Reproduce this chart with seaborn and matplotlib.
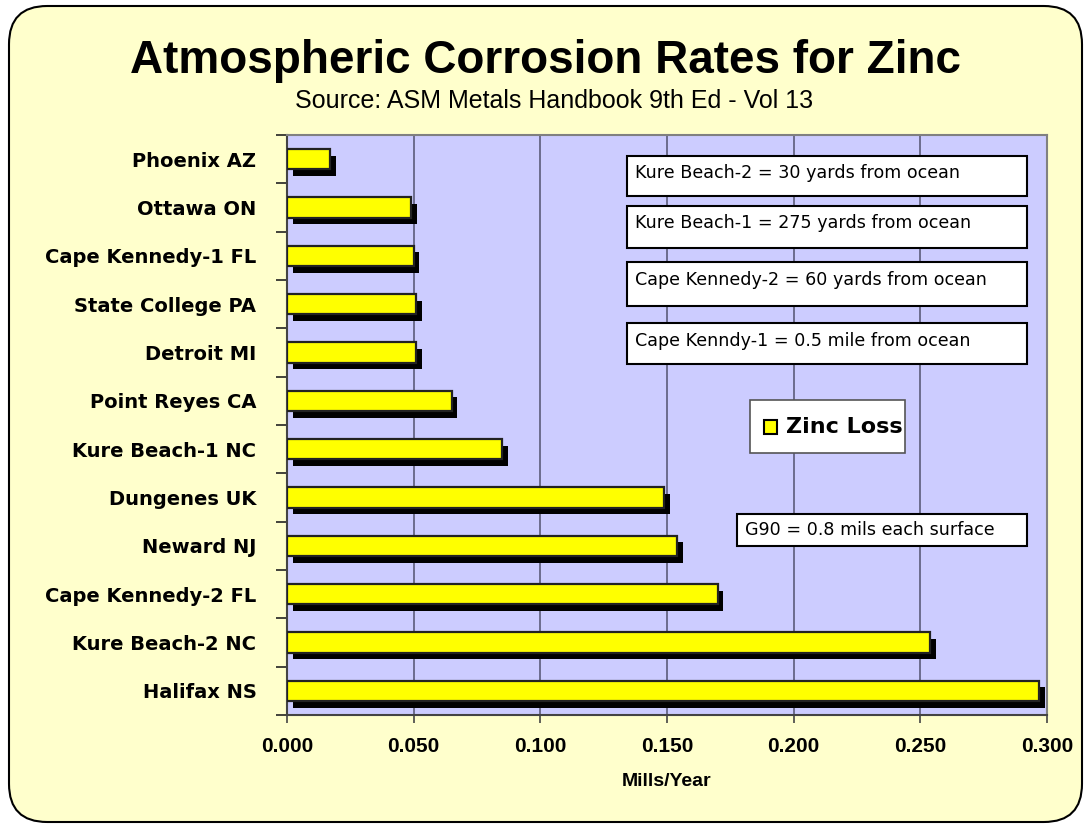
import matplotlib
matplotlib.use("Agg")
import matplotlib.pyplot as plt
import seaborn as sns
import pandas as pd
import numpy as np
from matplotlib import font_manager
from matplotlib.patches import Rectangle, FancyBboxPatch
import matplotlib.patheffects as pe
from matplotlib.ticker import FixedLocator, FormatStrFormatter

# ---------------- data ----------------
locations = ["Phoenix AZ", "Ottawa ON", "Cape Kennedy-1 FL", "State College PA",
             "Detroit MI", "Point Reyes CA", "Kure Beach-1 NC", "Dungenes UK",
             "Neward NJ", "Cape Kennedy-2 FL", "Kure Beach-2 NC", "Halifax NS"]
zinc_loss = [0.017, 0.049, 0.050, 0.051, 0.051, 0.065, 0.085, 0.149,
             0.154, 0.170, 0.254, 0.297]
x_ticks = [0.000, 0.050, 0.100, 0.150, 0.200, 0.250, 0.300]
notes = ["Kure Beach-2 = 30 yards from ocean",
         "Kure Beach-1 = 275 yards from ocean",
         "Cape Kennedy-2 = 60 yards from ocean",
         "Cape Kenndy-1 = 0.5 mile from ocean"]
g90_note = "G90 = 0.8 mils each surface"
series_name = "Zinc Loss"
title = "Atmospheric Corrosion Rates for Zinc"
subtitle = "Source: ASM Metals Handbook 9th Ed - Vol 13"
x_label = "Mills/Year"

df = pd.DataFrame({"Location": locations, "Loss": zinc_loss})

# ---------------- style ----------------
sns.set_theme(style="white")
avail = {f.name for f in font_manager.fontManager.ttflist}
narrow = "Liberation Sans Narrow" if "Liberation Sans Narrow" in avail else "Liberation Sans"
plt.rcParams["font.family"] = ["DejaVu Sans"]

W, H = 1091, 831
fig = plt.figure(figsize=(W / 100, H / 100), dpi=100)
fig.patch.set_facecolor("white")

def fx(x):
    return x / W

def fy(y):
    return 1 - y / H

# rounded background panel
panel = FancyBboxPatch((fx(9), fy(822)), fx(1082) - fx(9), fy(6) - fy(822),
                       boxstyle="round,pad=0,rounding_size=0.035",
                       transform=fig.transFigure, facecolor="#FFFFCC",
                       edgecolor="black", linewidth=1.5, zorder=0,
                       mutation_aspect=W / H)
fig.add_artist(panel)

ax = fig.add_axes([fx(287), fy(715), fx(1047) - fx(287), fy(135) - fy(715)])
ax.set_facecolor("#CCCCFF")

sns.barplot(data=df, x="Loss", y="Location", orient="h", color="#FFFF00",
            width=0.42, edgecolor="#222222", linewidth=1.6, saturation=1,
            ax=ax, zorder=3)
for p in ax.patches:
    p.set_path_effects([pe.SimplePatchShadow(offset=(4.0, -4.8),
                                             shadow_rgbFace="black", alpha=1.0),
                        pe.Normal()])

ax.set_xlim(0, 0.3)
ax.set_ylim(len(locations) - 0.5, -0.5)
ax.xaxis.set_major_locator(FixedLocator(x_ticks))
ax.xaxis.set_major_formatter(FormatStrFormatter("%.3f"))
ax.grid(axis="x", color="#5C5C7A", linewidth=1.2, zorder=1)
ax.set_axisbelow(True)

ax.yaxis.set_minor_locator(FixedLocator(np.arange(-0.5, len(locations), 1.0)))
ax.tick_params(axis="y", which="major", length=0, pad=22)
ax.tick_params(axis="y", which="minor", length=8, width=1.2, color="#222222",
               left=True, direction="out")
ax.tick_params(axis="x", which="major", length=6, width=1.2, color="#444444",
               bottom=True, direction="out", pad=10)
for lab in ax.get_yticklabels():
    lab.set_fontsize(14)
    lab.set_fontweight("bold")
    lab.set_color("black")
for lab in ax.get_xticklabels():
    lab.set_fontfamily(narrow)
    lab.set_fontsize(15)
    lab.set_fontweight("bold")
    lab.set_color("black")
ax.set_ylabel("")
ax.set_xlabel(x_label, fontfamily=narrow, fontsize=14, fontweight="bold",
              color="black", labelpad=12)

for side in ["left", "bottom"]:
    ax.spines[side].set_color("#444444")
    ax.spines[side].set_linewidth(1.5)
for side in ["right", "top"]:
    ax.spines[side].set_color("#808080")
    ax.spines[side].set_linewidth(1.5)

# titles
fig.text(fx(546), fy(61), title, ha="center", va="center", fontfamily=narrow,
         fontsize=33, fontweight="bold", color="black")
fig.text(fx(554), fy(101), subtitle, ha="center", va="center", fontfamily=narrow,
         fontsize=18, color="black")

# note boxes
def note_box(x0, y0, x1, y1, text, ty):
    fig.add_artist(Rectangle((fx(x0), fy(y1)), fx(x1) - fx(x0), fy(y0) - fy(y1),
                             transform=fig.transFigure, facecolor="white",
                             edgecolor="black", linewidth=1.5, zorder=5))
    fig.text(fx(x0 + 8), fy(ty), text, ha="left", va="center", fontsize=12.6,
             color="black", zorder=6)

note_box(627, 156, 1027, 196, notes[0], 173)
note_box(627, 206, 1027, 248, notes[1], 223)
note_box(627, 262, 1027, 306, notes[2], 280)
note_box(627, 323, 1027, 364, notes[3], 341)
note_box(737, 514, 1027, 546, g90_note, 530)

# legend box
fig.add_artist(Rectangle((fx(750), fy(453)), fx(905) - fx(750), fy(400) - fy(453),
                         transform=fig.transFigure, facecolor="white",
                         edgecolor="#555555", linewidth=1.2, zorder=5))
fig.add_artist(Rectangle((fx(764), fy(434)), fx(777) - fx(764), fy(420) - fy(434),
                         transform=fig.transFigure, facecolor="#FFFF00",
                         edgecolor="black", linewidth=1.5, zorder=6))
fig.text(fx(786), fy(427), series_name, ha="left", va="center", fontsize=16,
         fontweight="bold", color="black", zorder=6)

fig.savefig("out.png", dpi=100, facecolor="white")
